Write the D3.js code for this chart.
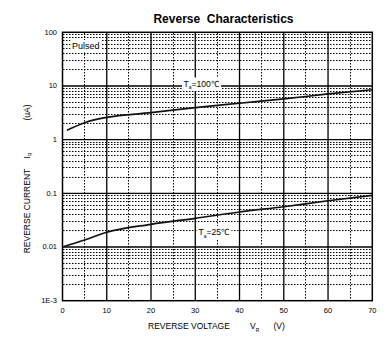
<!DOCTYPE html>
<html><head><meta charset="utf-8">
<script src="https://cdn.jsdelivr.net/npm/d3@7"></script>
<style>
html,body{margin:0;padding:0;background:#fff;}
text{font-family:"Liberation Sans",Arial,sans-serif;fill:#000;}
</style></head>
<body>
<svg id="c" width="390" height="355"></svg>
<script>
// ---- data ----
const xTicks = [0,10,20,30,40,50,60,70];
const yTicks = [0.001,0.01,0.1,1,10,100];
const yTickLabels = ["1E-3","0.01","0.1","1","10","100"];
const v100 = [1,5,10,20,30,40,50,60,70];
const i100 = [1.5,2.07,2.6,3.18,3.95,4.77,5.73,7.1,8.5];
const v25 = [0,5,10,20,30,40,50,60,70];
const i25 = [0.01,0.0135,0.0188,0.0265,0.0343,0.0449,0.0563,0.0728,0.092];

const svg = d3.select("#c");
const L=62.5, R=372.3, T=32.3, B=300.7;
const x = d3.scaleLinear().domain([0,70]).range([L,R]);
const y = d3.scaleLog().domain([0.001,100]).range([B,T]);
const crisp = v => Math.round(v - 0.5) + 0.5;

const g = svg.append("g");
// minor horizontal dotted
const minorY=[];
for(let e=-3;e<=1;e++) for(let k=2;k<=9;k++) minorY.push(k*Math.pow(10,e));
g.selectAll(".mh").data(minorY).enter().append("line")
 .attr("x1",63).attr("x2",R).attr("y1",d=>crisp(y(d))).attr("y2",d=>crisp(y(d)))
 .attr("stroke","#000").attr("stroke-width",1).attr("stroke-dasharray","1.5,1.5");
// minor vertical dotted
const minorX=[5,15,25,35,45,55,65];
g.selectAll(".mv").data(minorX).enter().append("line")
 .attr("x1",d=>crisp(x(d))).attr("x2",d=>crisp(x(d))).attr("y1",33).attr("y2",B)
 .attr("stroke","#000").attr("stroke-width",1).attr("stroke-dasharray","1.5,1.5");
// major
g.selectAll(".Mh").data(yTicks.slice(1,-1)).enter().append("line")
 .attr("x1",L).attr("x2",R).attr("y1",d=>y(d)).attr("y2",d=>y(d))
 .attr("stroke","#000").attr("stroke-width",1.3);
g.selectAll(".Mv").data(xTicks.slice(1,-1)).enter().append("line")
 .attr("x1",d=>x(d)).attr("x2",d=>x(d)).attr("y1",T).attr("y2",B)
 .attr("stroke","#000").attr("stroke-width",1.3);
g.append("rect").attr("x",L).attr("y",T).attr("width",R-L).attr("height",B-T)
 .attr("fill","none").attr("stroke","#000").attr("stroke-width",1.5);

// curves
const line = d3.line().x(d=>x(d[0])).y(d=>y(d[1])).curve(d3.curveMonotoneX);
svg.append("path").datum(v100.map((v,i)=>[v,i100[i]])).attr("d",line)
 .attr("fill","none").attr("stroke","#111").attr("stroke-width",1.7);
svg.append("path").datum(v25.map((v,i)=>[v,i25[i]])).attr("d",line)
 .attr("fill","none").attr("stroke","#111").attr("stroke-width",1.7);

// tick labels
svg.selectAll(".yt").data(yTicks).enter().append("text")
 .attr("x",57).attr("y",d=>y(d)).attr("dy","0.3em").attr("text-anchor","end")
 .attr("font-size","7.5px").text((d,i)=>yTickLabels[i]);
svg.selectAll(".xt").data(xTicks).enter().append("text")
 .attr("x",d=>x(d)).attr("y",313).attr("text-anchor","middle")
 .attr("font-size","7.5px").text(d=>d);

// title
svg.append("text").attr("x",223.5).attr("y",23).attr("text-anchor","middle")
 .attr("font-size","12px").attr("font-weight","bold").attr("xml:space","preserve")
 .text("Reverse  Characteristics");

// x title
const xt = svg.append("text").attr("y",329).attr("font-size","8.5px");
xt.append("tspan").attr("x",148).text("REVERSE VOLTAGE");
xt.append("tspan").attr("x",250).text("V");
xt.append("tspan").attr("font-size","5px").attr("dy",2.5).text("R");
xt.append("tspan").attr("x",273.5).attr("dy",-2.5).text("(V)");

// y title
const yt = svg.append("g").attr("transform","translate(29.7,0) rotate(-90)")
 .append("text").attr("font-size","8.5px");
yt.append("tspan").attr("x",-253.3).text("REVERSE CURRENT");
yt.append("tspan").attr("x",-158.5).text("I");
yt.append("tspan").attr("font-size","5px").attr("dy",2.5).text("R");
yt.append("tspan").attr("x",-120.5).attr("dy",-2.5).text("(uA)");

// labels with white background
function label(parent, xx, yy, parts, fs){
  const gg = parent.append("g");
  const r = gg.append("rect").attr("fill","#fff");
  const t = gg.append("text").attr("x",xx).attr("y",yy).attr("font-size",fs);
  parts(t);
  const bb = t.node().getBBox();
  r.attr("x",bb.x-1.5).attr("y",bb.y-1).attr("width",bb.width+3).attr("height",bb.height+2);
}
label(svg,72,49,t=>t.text("Pulsed"),"9px");
label(svg,183.5,86.5,t=>{
  t.append("tspan").text("T");
  t.append("tspan").attr("font-size","5px").attr("dy",2.5).text("a");
  t.append("tspan").attr("dy",-2.5).text("=100℃");
},"8.5px");
label(svg,198.5,235,t=>{
  t.append("tspan").text("T");
  t.append("tspan").attr("font-size","5px").attr("dy",2.5).text("a");
  t.append("tspan").attr("dy",-2.5).text("=25℃");
},"8.5px");
</script>
</body></html>
